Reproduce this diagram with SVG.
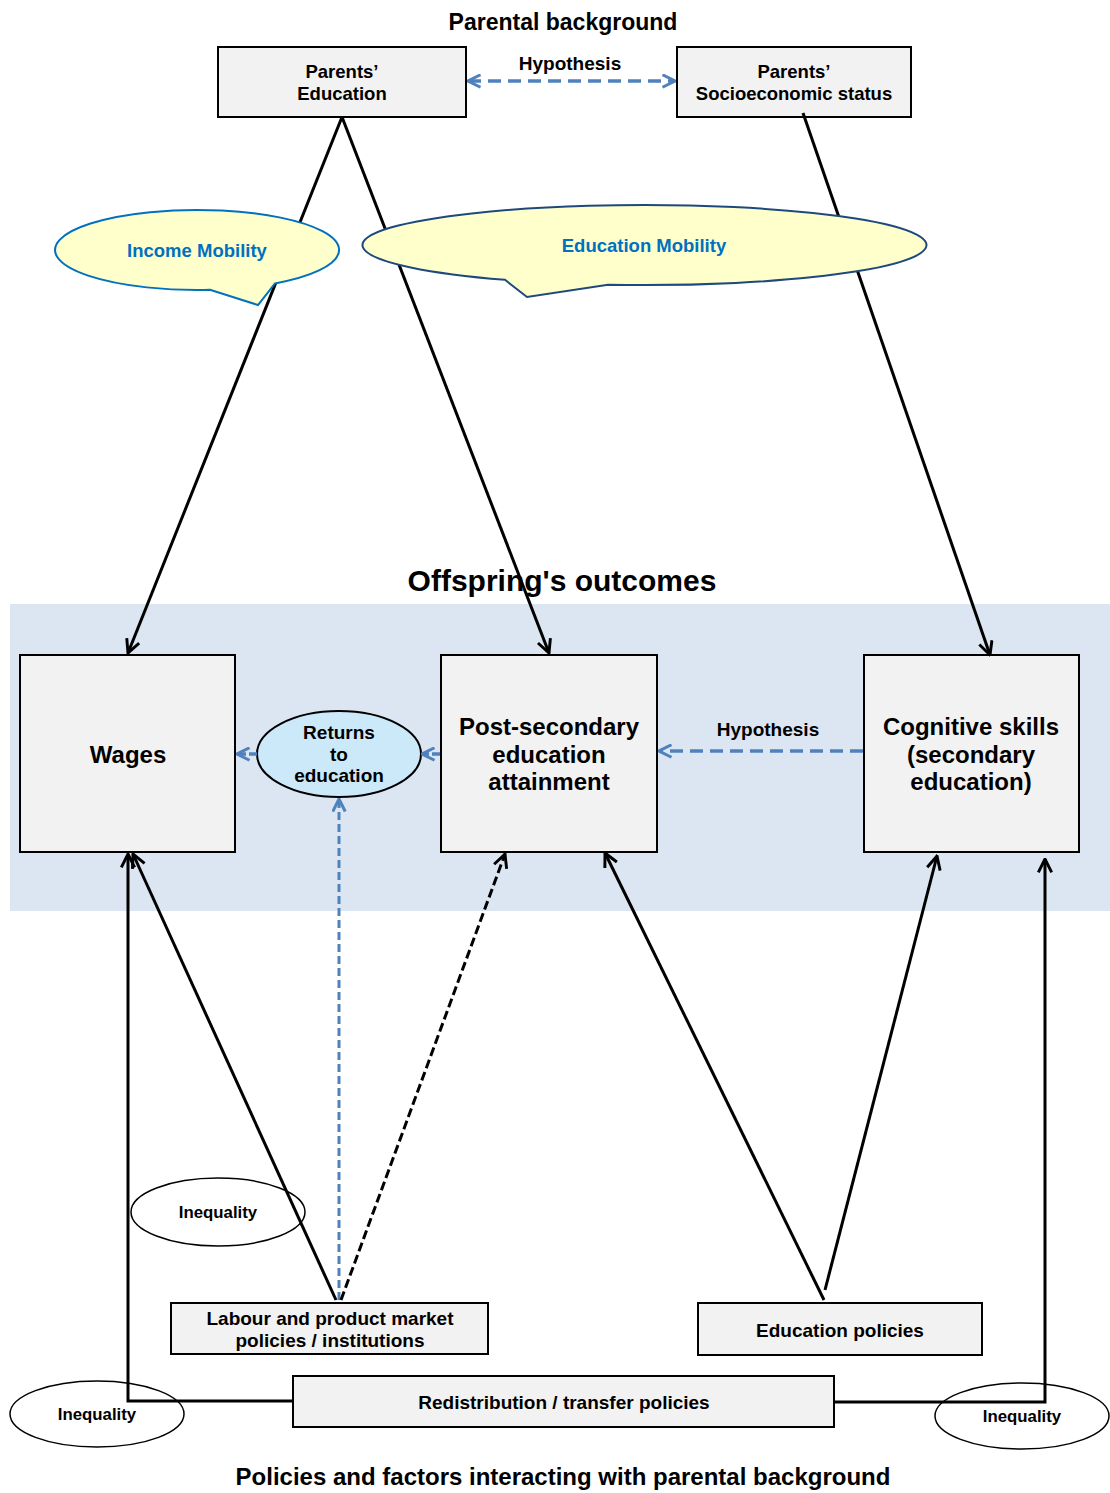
<svg xmlns="http://www.w3.org/2000/svg" width="1110" height="1493" viewBox="0 0 1110 1493">
<style>
text{font-family:"Liberation Sans",Arial,sans-serif;font-weight:bold;fill:#000;text-anchor:middle}
.box{fill:#F2F2F2;stroke:#000;stroke-width:2}
.ln{fill:none;stroke:#000;stroke-width:3}
.dk{fill:none;stroke:#000;stroke-width:3;stroke-dasharray:9 4}
.bl{fill:none;stroke:#4F81BD;stroke-width:3.5;stroke-dasharray:13 7}
.bv{fill:none;stroke:#4F81BD;stroke-width:3;stroke-dasharray:8 4}
.ineq{fill:none;stroke:#000;stroke-width:1.5}
.t16{font-size:18.5px}
.t17{font-size:19px}
.t22{font-size:24px}
.iq{font-size:16.8px}
</style>
<defs>
<marker id="ak" viewBox="0 0 12 12" refX="11" refY="6" markerWidth="16" markerHeight="16" markerUnits="userSpaceOnUse" orient="auto-start-reverse">
<path d="M1,1 L11,6 L1,11" fill="none" stroke="#000" stroke-width="2.2"/>
</marker>
<marker id="ab" viewBox="0 0 12 12" refX="11" refY="6" markerWidth="15" markerHeight="15" markerUnits="userSpaceOnUse" orient="auto-start-reverse">
<path d="M1,1 L11,6 L1,11" fill="none" stroke="#4F81BD" stroke-width="2.4"/>
</marker>
</defs>
<rect width="1110" height="1493" fill="#fff"/>
<rect x="10" y="604" width="1100" height="307" fill="#DCE6F2"/>
<text x="563" y="30" style="font-size:23px">Parental background</text>
<text x="562" y="591" style="font-size:30px">Offspring's outcomes</text>
<text x="563" y="1485" style="font-size:24px">Policies and factors interacting with parental background</text>

<g id="parents-education"><rect class="box" x="218" y="47" width="248" height="70"/><text class="t16" x="342" y="78">Parents’</text><text class="t16" x="342" y="100">Education</text></g>
<g id="parents-ses"><rect class="box" x="677" y="47" width="234" height="70"/><text class="t16" x="794" y="78">Parents’</text><text class="t16" x="794" y="100">Socioeconomic status</text></g>

<g id="wages"><rect class="box" x="20" y="655" width="215" height="197"/><text class="t22" x="128" y="763">Wages</text></g>
<g id="pse"><rect class="box" x="441" y="655" width="216" height="197"/><text class="t22" x="549" y="735">Post-secondary</text><text class="t22" x="549" y="763">education</text><text class="t22" x="549" y="790">attainment</text></g>
<g id="cognitive"><rect class="box" x="864" y="655" width="215" height="197"/><text class="t22" x="971" y="735">Cognitive skills</text><text class="t22" x="971" y="763">(secondary</text><text class="t22" x="971" y="790">education)</text></g>
<g id="returns"><ellipse cx="339" cy="754" rx="82" ry="43" fill="#CCE9FA" stroke="#000" stroke-width="2"/><text class="t17" x="339" y="739">Returns</text><text class="t17" x="339" y="761">to</text><text class="t17" x="339" y="782">education</text></g>

<g id="labour"><rect class="box" x="171" y="1303" width="317" height="51"/><text class="t17" x="330" y="1325">Labour and product market</text><text class="t17" x="330" y="1347">policies / institutions</text></g>
<g id="edu-policies"><rect class="box" x="698" y="1303" width="284" height="52"/><text class="t17" x="840" y="1337">Education policies</text></g>
<g id="redistribution"><rect class="box" x="293" y="1376" width="541" height="51"/><text class="t17" x="564" y="1409">Redistribution / transfer policies</text></g>

<g id="connectors">
<path class="bl" d="M468,81 H675" marker-start="url(#ab)" marker-end="url(#ab)"/>
<path class="ln" d="M342,117 L128,653" marker-end="url(#ak)"/>
<path class="ln" d="M342,117 L549,653" marker-end="url(#ak)"/>
<path class="ln" d="M803,113 L990,655" marker-end="url(#ak)"/>
<path class="bl" d="M863,751 H659" marker-end="url(#ab)"/>
<path class="bl" d="M440,754 H422" marker-end="url(#ab)" style="stroke-dasharray:8 3"/>
<path class="bl" d="M257,754 H237" marker-end="url(#ab)" style="stroke-dasharray:8 3"/>
<path class="bv" d="M339,1300 V799" marker-end="url(#ab)"/>
<path class="dk" d="M341,1300 L505,854" marker-end="url(#ak)"/>
<path class="ln" d="M336,1300 L133,854" marker-end="url(#ak)"/>
<path class="ln" d="M293,1401 H128 V854" marker-end="url(#ak)"/>
<path class="ln" d="M833,1402 H1045 V859" marker-end="url(#ak)"/>
<path class="ln" d="M825,1290 L937,856" marker-end="url(#ak)"/>
<path class="ln" d="M824,1300 L605,853" marker-end="url(#ak)"/>
</g>

<g id="income-mobility"><path d="M210,289.8 A142,40 0 1 1 275,283.4 L258,305 Z" fill="#FFFFCC" stroke="#0070C0" stroke-width="2"/><text x="197" y="257" style="font-size:18.5px;fill:#0070C0">Income Mobility</text></g>
<g id="education-mobility"><path d="M505,279.8 A282,40 0 1 1 608,284.7 L527,297 Z" fill="#FFFFCC" stroke="#1F497D" stroke-width="2"/><text x="644" y="252" style="font-size:18.5px;fill:#0070C0">Education Mobility</text></g>

<text class="t17" x="570" y="70">Hypothesis</text>
<text class="t17" x="768" y="736">Hypothesis</text>

<g id="inequality-1"><ellipse class="ineq" cx="218" cy="1212" rx="87" ry="34"/><text class="iq" x="218" y="1218">Inequality</text></g>
<g id="inequality-2"><ellipse class="ineq" cx="97" cy="1414" rx="87" ry="33"/><text class="iq" x="97" y="1420">Inequality</text></g>
<g id="inequality-3"><ellipse class="ineq" cx="1022" cy="1416" rx="87" ry="33"/><text class="iq" x="1022" y="1422">Inequality</text></g>
</svg>
